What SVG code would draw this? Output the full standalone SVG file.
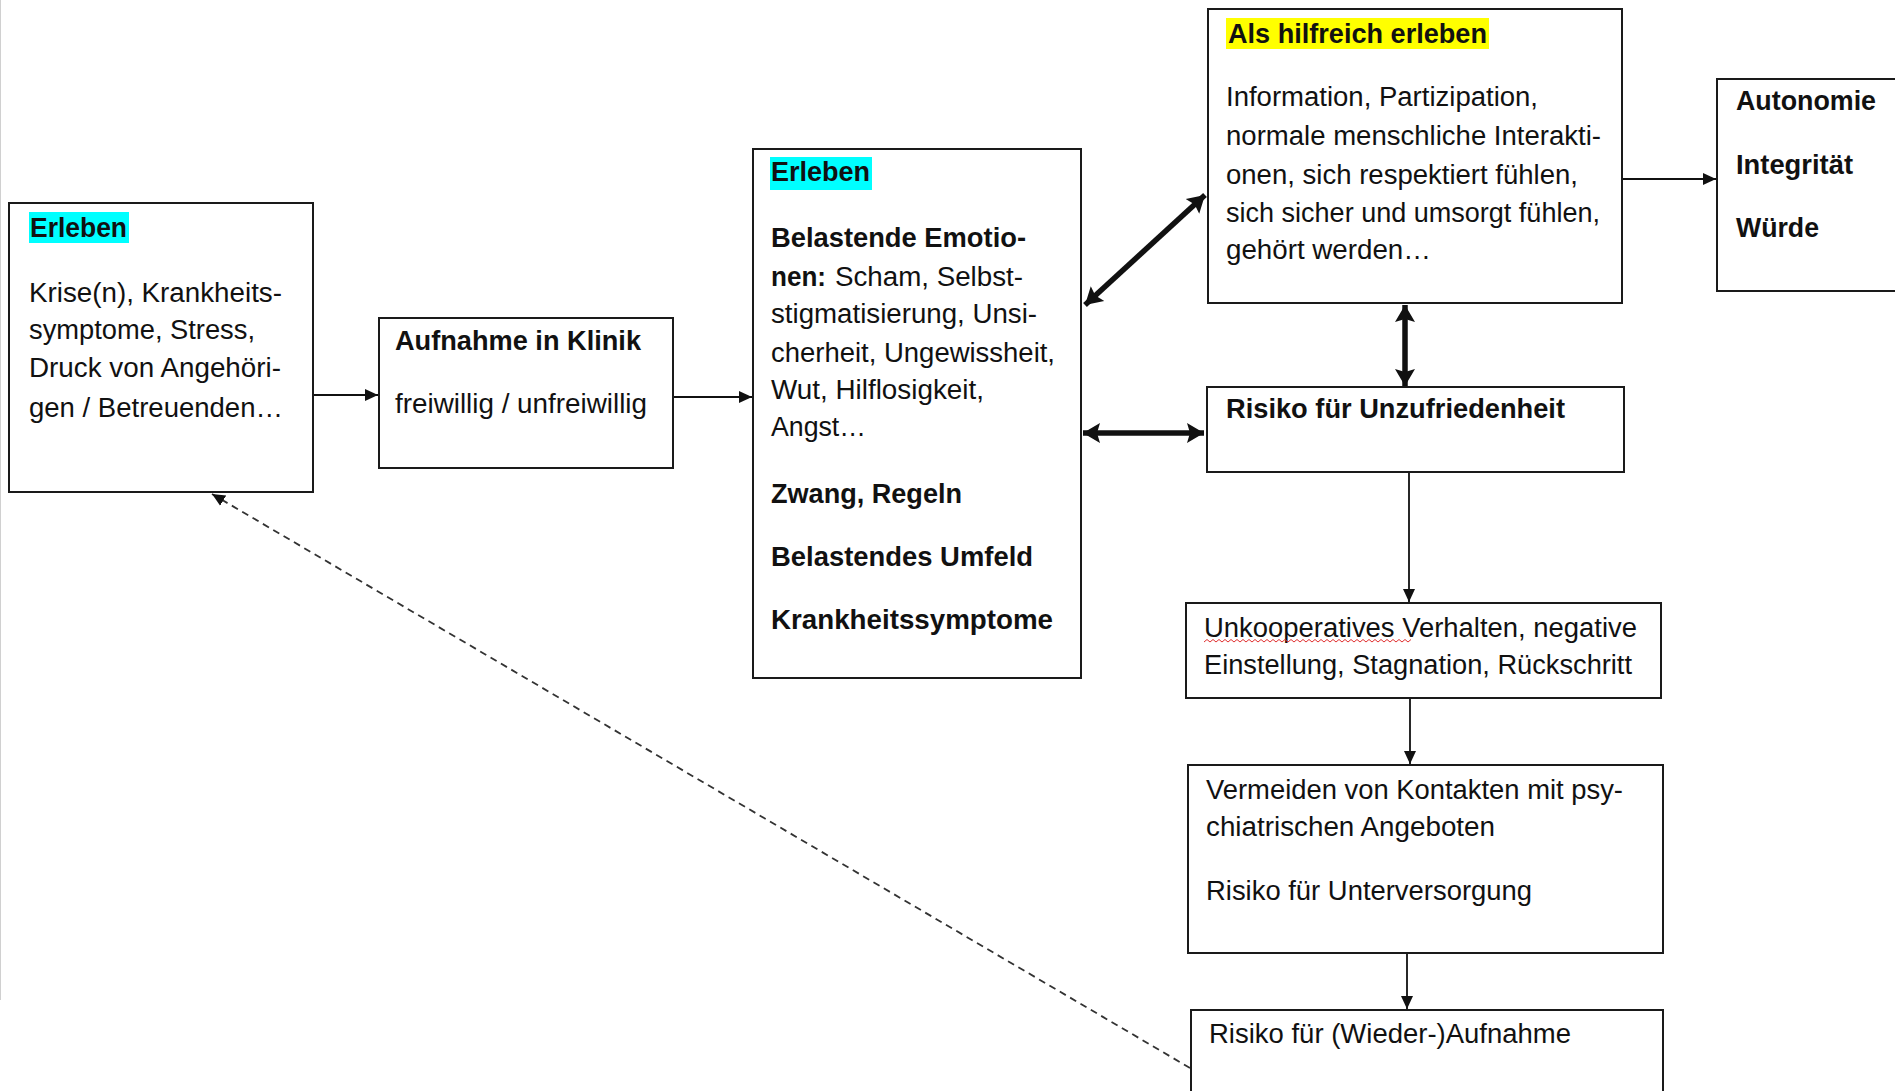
<svg xmlns="http://www.w3.org/2000/svg" width="1895" height="1091" viewBox="0 0 1895 1091">
<style>
  .box { fill: #fff; stroke: #1a1a1a; stroke-width: 2; }
  .t { font-family: "Liberation Sans", Arial, sans-serif; font-size: 27px; fill: #111; }
  .b { font-weight: bold; }
  .thin { stroke: #111; stroke-width: 1.8; fill: none; }
  .thick { stroke: #111; stroke-width: 5.5; fill: none; }
  .dash { stroke: #333; stroke-width: 1.8; fill: none; stroke-dasharray: 7 5; }
</style>
<defs>
  <marker id="ah" markerUnits="userSpaceOnUse" markerWidth="16" markerHeight="16" refX="13" refY="8" orient="auto">
    <path d="M0,2 L13,8 L0,14 z" fill="#111"/>
  </marker>
  <marker id="ahb" markerUnits="userSpaceOnUse" markerWidth="24" markerHeight="24" refX="17" refY="12" orient="auto-start-reverse">
    <path d="M0,2 L17,12 L0,22 L3,12 z" fill="#111"/>
  </marker>
  <marker id="ahd" markerUnits="userSpaceOnUse" markerWidth="16" markerHeight="16" refX="13" refY="8" orient="auto">
    <path d="M0,2 L13,8 L0,14 z" fill="#111"/>
  </marker>
</defs>
<rect x="0" y="0" width="1895" height="1091" fill="#fff"/>
<line x1="0.5" y1="0" x2="0.5" y2="1000" stroke="#d0d0d0" stroke-width="1"/>

<g id="connectors">
  <path class="thin" d="M314,395 L378,395" marker-end="url(#ah)"/>
  <path class="thin" d="M673,397 L752,397" marker-end="url(#ah)"/>
  <path class="thin" d="M1622,179 L1716,179" marker-end="url(#ah)"/>
  <path class="thick" d="M1085,305 L1205,195" marker-start="url(#ahb)" marker-end="url(#ahb)"/>
  <path class="thick" d="M1083,433 L1204,433" marker-start="url(#ahb)" marker-end="url(#ahb)"/>
  <path class="thick" d="M1405,305 L1405,386" marker-start="url(#ahb)" marker-end="url(#ahb)"/>
  <path class="thin" d="M1409,473 L1409,602" marker-end="url(#ah)"/>
  <path class="thin" d="M1410,698 L1410,764" marker-end="url(#ah)"/>
  <path class="thin" d="M1407,953 L1407,1009" marker-end="url(#ah)"/>
  <path class="dash" d="M1190,1068 L212,494" marker-end="url(#ahd)"/>
</g>

<g id="node-erleben1">
  <rect class="box" x="9" y="203" width="304" height="289"/>
  <rect x="29" y="212" width="100" height="31" fill="#00ffff"/>
  <text class="t b" x="30" y="237" textLength="97" lengthAdjust="spacingAndGlyphs">Erleben</text>
  <text class="t" x="29" y="302" textLength="253" lengthAdjust="spacingAndGlyphs">Krise(n), Krankheits-</text>
  <text class="t" x="29" y="339" textLength="226" lengthAdjust="spacingAndGlyphs">symptome, Stress,</text>
  <text class="t" x="29" y="377" textLength="252" lengthAdjust="spacingAndGlyphs">Druck von Angehöri-</text>
  <text class="t" x="29" y="417" textLength="254" lengthAdjust="spacingAndGlyphs">gen / Betreuenden…</text>
</g>

<g id="node-aufnahme">
  <rect class="box" x="379" y="318" width="294" height="150"/>
  <text class="t b" x="395" y="350" textLength="246" lengthAdjust="spacingAndGlyphs">Aufnahme in Klinik</text>
  <text class="t" x="395" y="413" textLength="252" lengthAdjust="spacingAndGlyphs">freiwillig / unfreiwillig</text>
</g>

<g id="node-erleben2">
  <rect class="box" x="753" y="149" width="328" height="529"/>
  <rect x="770" y="157" width="102" height="33" fill="#00ffff"/>
  <text class="t b" x="771" y="181" textLength="99" lengthAdjust="spacingAndGlyphs">Erleben</text>
  <text class="t b" x="771" y="247" textLength="255" lengthAdjust="spacingAndGlyphs">Belastende Emotio-</text>
  <text class="t b" x="771" y="286" textLength="55" lengthAdjust="spacingAndGlyphs">nen:</text>
  <text class="t" x="835" y="286" textLength="188" lengthAdjust="spacingAndGlyphs">Scham, Selbst-</text>
  <text class="t" x="771" y="323" textLength="266" lengthAdjust="spacingAndGlyphs">stigmatisierung, Unsi-</text>
  <text class="t" x="771" y="362" textLength="284" lengthAdjust="spacingAndGlyphs">cherheit, Ungewissheit,</text>
  <text class="t" x="771" y="399" textLength="213" lengthAdjust="spacingAndGlyphs">Wut, Hilflosigkeit,</text>
  <text class="t" x="771" y="436" textLength="95" lengthAdjust="spacingAndGlyphs">Angst…</text>
  <text class="t b" x="771" y="503" textLength="191" lengthAdjust="spacingAndGlyphs">Zwang, Regeln</text>
  <text class="t b" x="771" y="566" textLength="262" lengthAdjust="spacingAndGlyphs">Belastendes Umfeld</text>
  <text class="t b" x="771" y="629" textLength="282" lengthAdjust="spacingAndGlyphs">Krankheitssymptome</text>
</g>

<g id="node-hilfreich">
  <rect class="box" x="1208" y="9" width="414" height="294"/>
  <rect x="1226" y="18" width="263" height="31" fill="#ffff00"/>
  <text class="t b" x="1228" y="43" textLength="259" lengthAdjust="spacingAndGlyphs">Als hilfreich erleben</text>
  <text class="t" x="1226" y="106" textLength="312" lengthAdjust="spacingAndGlyphs">Information, Partizipation,</text>
  <text class="t" x="1226" y="145" textLength="375" lengthAdjust="spacingAndGlyphs">normale menschliche Interakti-</text>
  <text class="t" x="1226" y="184" textLength="352" lengthAdjust="spacingAndGlyphs">onen, sich respektiert fühlen,</text>
  <text class="t" x="1226" y="222" textLength="374" lengthAdjust="spacingAndGlyphs">sich sicher und umsorgt fühlen,</text>
  <text class="t" x="1226" y="259" textLength="205" lengthAdjust="spacingAndGlyphs">gehört werden…</text>
</g>

<g id="node-werte">
  <rect class="box" x="1717" y="79" width="190" height="212"/>
  <text class="t b" x="1736" y="110" textLength="140" lengthAdjust="spacingAndGlyphs">Autonomie</text>
  <text class="t b" x="1736" y="174" textLength="117" lengthAdjust="spacingAndGlyphs">Integrität</text>
  <text class="t b" x="1736" y="237" textLength="83" lengthAdjust="spacingAndGlyphs">Würde</text>
</g>

<g id="node-unzufriedenheit">
  <rect class="box" x="1207" y="387" width="417" height="85"/>
  <text class="t b" x="1226" y="418" textLength="339" lengthAdjust="spacingAndGlyphs">Risiko für Unzufriedenheit</text>
</g>

<g id="node-unkooperativ">
  <rect class="box" x="1186" y="603" width="475" height="95"/>
  <text class="t" x="1204" y="637" textLength="433" lengthAdjust="spacingAndGlyphs">Unkooperatives Verhalten, negative</text>
  <path d="M1204,642 l3,-2.5 l3,2.5 l3,-2.5 l3,2.5 l3,-2.5 l3,2.5 l3,-2.5 l3,2.5 l3,-2.5 l3,2.5 l3,-2.5 l3,2.5 l3,-2.5 l3,2.5 l3,-2.5 l3,2.5 l3,-2.5 l3,2.5 l3,-2.5 l3,2.5 l3,-2.5 l3,2.5 l3,-2.5 l3,2.5 l3,-2.5 l3,2.5 l3,-2.5 l3,2.5 l3,-2.5 l3,2.5 l3,-2.5 l3,2.5 l3,-2.5 l3,2.5 l3,-2.5 l3,2.5 l3,-2.5 l3,2.5 l3,-2.5 l3,2.5 l3,-2.5 l3,2.5 l3,-2.5 l3,2.5 l3,-2.5 l3,2.5 l3,-2.5 l3,2.5 l3,-2.5 l3,2.5 l3,-2.5 l3,2.5 l3,-2.5 l3,2.5 l3,-2.5 l3,2.5 l3,-2.5 l3,2.5 l3,-2.5 l3,2.5 l3,-2.5 l3,2.5 l3,-2.5 l3,2.5 l3,-2.5 l3,2.5 l3,-2.5 l3,2.5 l3,-2.5" fill="none" stroke="#e03030" stroke-width="1"/>
  <text class="t" x="1204" y="674" textLength="428" lengthAdjust="spacingAndGlyphs">Einstellung, Stagnation, Rückschritt</text>
</g>

<g id="node-vermeiden">
  <rect class="box" x="1188" y="765" width="475" height="188"/>
  <text class="t" x="1206" y="799" textLength="417" lengthAdjust="spacingAndGlyphs">Vermeiden von Kontakten mit psy-</text>
  <text class="t" x="1206" y="836" textLength="289" lengthAdjust="spacingAndGlyphs">chiatrischen Angeboten</text>
  <text class="t" x="1206" y="900" textLength="326" lengthAdjust="spacingAndGlyphs">Risiko für Unterversorgung</text>
</g>

<g id="node-wiederaufnahme">
  <rect class="box" x="1191" y="1010" width="472" height="100"/>
  <text class="t" x="1209" y="1043" textLength="362" lengthAdjust="spacingAndGlyphs">Risiko für (Wieder-)Aufnahme</text>
</g>
</svg>
